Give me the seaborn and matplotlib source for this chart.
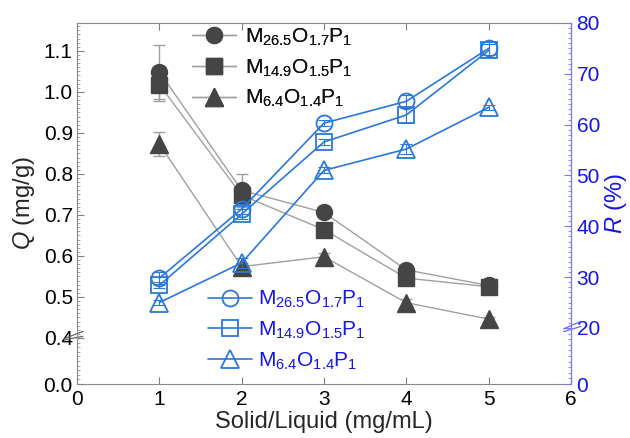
import numpy as np
import matplotlib
matplotlib.use("Agg")
import matplotlib.pyplot as plt
import matplotlib.transforms as mtrans
from matplotlib.lines import Line2D
from matplotlib.ticker import FixedLocator
import seaborn as sns

sns.set_style("ticks")
plt.rcParams['font.family'] = ['Liberation Sans', 'DejaVu Sans']
plt.rcParams['mathtext.fontset'] = 'custom'
plt.rcParams['mathtext.rm'] = 'Liberation Sans'
plt.rcParams['mathtext.it'] = 'Liberation Sans:italic'

# ---- data ----
x = [1, 2, 3, 4, 5]
labels = [r'M$_{26.5}$O$_{1.7}$P$_1$', r'M$_{14.9}$O$_{1.5}$P$_1$', r'M$_{6.4}$O$_{1.4}$P$_1$']
markers = ['o', 's', '^']

q_m265 = [1.049, 0.760, 0.706, 0.566, 0.528]
q_m149 = [1.018, 0.748, 0.664, 0.546, 0.525]
q_m64 = [0.873, 0.574, 0.598, 0.486, 0.446]
q_err265 = [0.066, 0.040, 0.010, 0.010, 0.008]
q_err149 = [0.040, 0.020, 0.010, 0.008, 0.008]
q_err64 = [0.030, 0.010, 0.008, 0.008, 0.006]

r_m265 = [29.8, 43.4, 60.3, 64.6, 75.0]
r_m149 = [28.4, 42.4, 56.6, 61.9, 74.6]
r_m64 = [25.0, 32.8, 51.0, 55.2, 63.4]
r_err265 = [1.2, 1.0, 0.6, 1.3, 1.2]
r_err149 = [0.6, 1.0, 0.6, 1.5, 1.2]
r_err64 = [0.5, 1.0, 0.6, 1.0, 0.5]

xticks = [0, 1, 2, 3, 4, 5, 6]
qticks = [0.0, 0.4, 0.5, 0.6, 0.7, 0.8, 0.9, 1.0, 1.1]
rticks = [0, 20, 30, 40, 50, 60, 70, 80]

Q = [q_m265, q_m149, q_m64]
QE = [q_err265, q_err149, q_err64]
R = [r_m265, r_m149, r_m64]
RE = [r_err265, r_err149, r_err64]

# ---- broken scales ----
def q_fwd(y):
    y = np.asarray(y, float)
    return np.where(y <= 0.4, y / 0.4 * 46.0, 46.0 + (y - 0.4) * 410.0)

def q_inv(v):
    v = np.asarray(v, float)
    return np.where(v <= 46.0, v / 46.0 * 0.4, 0.4 + (v - 46.0) / 410.0)

def r_fwd(r):
    r = np.asarray(r, float)
    return np.where(r <= 20, r / 20.0 * 56.0, 56.0 + (r - 20) * 5.08)

def r_inv(v):
    v = np.asarray(v, float)
    return np.where(v <= 56.0, v / 56.0 * 20.0, 20 + (v - 56.0) / 5.08)

BLACK_M = '#454545'
BLACK_L = '#a0a0a0'
BLUE = '#2a78dc'
RBLUE = '#1414ee'
MS = 11.5

fig = plt.figure(figsize=(6.3, 4.38), dpi=100)
ax = fig.add_axes([77/630, 1-384/438, 494/630, 361/438])
ax.set_yscale('function', functions=(q_fwd, q_inv))
ax2 = ax.twinx()
ax2.set_yscale('function', functions=(r_fwd, r_inv))

# Q series
for qs, qe, m in zip(Q, QE, markers):
    ax.errorbar(x, qs, yerr=qe, fmt='none', ecolor=BLACK_L, elinewidth=1.0, capsize=4, capthick=1.0, zorder=2)
    sns.lineplot(x=x, y=qs, ax=ax, color=BLACK_L, linewidth=1.0, legend=False, zorder=3)
    ax.plot(x, qs, linestyle='none', marker=m, markersize=MS if m != '^' else MS + 1,
            markerfacecolor=BLACK_M, markeredgecolor=BLACK_M, zorder=4)

# R series
for rs, re_, m in zip(R, RE, markers):
    ax2.errorbar(x, rs, yerr=re_, fmt='none', ecolor=BLUE, elinewidth=0.8, capsize=4, capthick=0.8, zorder=2)
    sns.lineplot(x=x, y=rs, ax=ax2, color=BLUE, linewidth=1.2, legend=False, zorder=3)
    ax2.plot(x, rs, linestyle='none', marker=m, markersize=MS if m != '^' else MS + 1,
             markerfacecolor='none', markeredgecolor=BLUE, markeredgewidth=1.3, zorder=4)

ax.set_xlim(0, 6)
ax.set_ylim(0, 1.168)
ax2.set_ylim(0, 80)
ax.set_xticks(xticks)
ax.yaxis.set_major_locator(FixedLocator(qticks))
ax.yaxis.set_minor_locator(FixedLocator(list(np.arange(0.0, 0.4, 0.04)) + list(np.arange(0.4, 1.17, 0.01))))
ax2.yaxis.set_major_locator(FixedLocator(rticks))
ax2.yaxis.set_minor_locator(FixedLocator(list(np.arange(0, 20, 2)) + list(np.arange(20, 81, 1))))
ax.set_yticklabels([f'{t:.1f}' for t in qticks])
ax2.set_yticklabels([str(t) for t in rticks])

ax.tick_params(axis='both', which='both', direction='in', labelsize=15, labelcolor='black')
ax.tick_params(axis='x', which='major', top=True, length=5, color='#808080', pad=4)
ax.tick_params(axis='y', which='major', length=5, color='#808080', pad=3)
ax.tick_params(axis='y', which='minor', length=2.5, color='#999999')
ax2.tick_params(axis='y', which='both', direction='in', labelsize=15, labelcolor=RBLUE, color='#7a7aff')
ax2.tick_params(axis='y', which='major', length=5, pad=4)
ax2.tick_params(axis='y', which='minor', length=2.5)

for s in ['left', 'bottom', 'top']:
    ax.spines[s].set_color('#888888')
ax2.spines['right'].set_color('#7a7aff')
for s in ['left', 'bottom', 'top']:
    ax2.spines[s].set_visible(False)

ax.set_xlabel('Solid/Liquid (mg/mL)', fontsize=17, labelpad=2)
ax.set_ylabel(r'$Q$ (mg/g)', fontsize=17, labelpad=5)
ax2.set_ylabel(r'$R$ (%)', fontsize=17, color=RBLUE, labelpad=2)

# break marks
tl = mtrans.blended_transform_factory(ax.transAxes, ax.transData)
for dy in (-0.006, 0.006):
    ax.plot([-0.025, 0.012], [0.39 + dy, 0.41 + dy], transform=tl, color='#666666', lw=0.9, clip_on=False)
tr = mtrans.blended_transform_factory(ax2.transAxes, ax2.transData)
for dy in (-0.5, 0.5):
    ax2.plot([0.985, 1.02], [19.2 + dy, 20.8 + dy], transform=tr, color='#6a6aff', lw=0.9, clip_on=False)

# legends
hq = [Line2D([], [], color=BLACK_L, lw=1.0, marker=m, markersize=MS if m != '^' else MS + 1,
             markerfacecolor=BLACK_M, markeredgecolor=BLACK_M) for m in markers]
leg1 = ax.legend(hq, labels, loc='upper left', bbox_to_anchor=(0.233, 0.99), frameon=False,
                 fontsize=15, handlelength=2.1, labelspacing=0.45, handletextpad=0.45,
                 borderpad=0, borderaxespad=0)
for t in leg1.get_texts():
    t.set_color('#111111')
ax.add_artist(leg1)
hr = [Line2D([], [], color=BLUE, lw=1.2, marker=m, markersize=MS if m != '^' else MS + 1,
             markerfacecolor='none', markeredgecolor=BLUE, markeredgewidth=1.3) for m in markers]
leg2 = ax2.legend(hr, labels, loc='upper left', bbox_to_anchor=(0.265, 0.263), frameon=False,
                  fontsize=15, handlelength=2.1, labelspacing=0.45, handletextpad=0.3,
                  borderpad=0, borderaxespad=0)
for t in leg2.get_texts():
    t.set_color(RBLUE)

fig.savefig('out.png', dpi=100)
